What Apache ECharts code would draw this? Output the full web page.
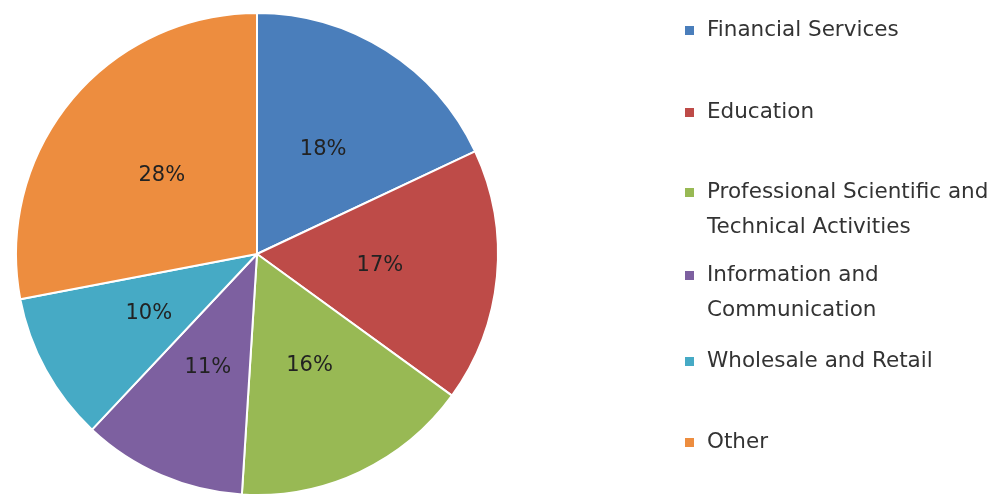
<!DOCTYPE html>
<html><head><meta charset="utf-8">
<script src="https://cdn.jsdelivr.net/npm/echarts@6/dist/echarts.min.js"></script>
<style>html,body{margin:0;padding:0;background:#fff}#c{width:997px;height:497px}</style>
</head><body><div id="c"></div>
<script>
const categories = ["Financial Services","Education","Professional Scientific and Technical Activities","Information and Communication","Wholesale and Retail","Other"];
const legendLine1 = ["Financial Services","Education","Professional Scientific and","Information and","Wholesale and Retail","Other"];
const legendLine2 = ["","","Technical Activities","Communication","",""];
const values = [18,17,16,11,10,28];
const colors = ["#4a7ebb","#be4b48","#98b954","#7d60a0","#46aac5","#ed8d3f"];

const FONT = "DejaVu Sans";
const LFS = 21.5;
const LH = 35;
const iconCenters = [30,112,192,275,361,442];
const legends = [];
categories.forEach((name,i)=>{
  const base = {
    data:[name], left:685, padding:0, itemWidth:9, itemHeight:9, selectedMode:false,
    itemStyle:{borderWidth:0},
    textStyle:{fontFamily:FONT,fontSize:LFS,color:'#333',padding:[0,0,0,8]}
  };
  legends.push(Object.assign({}, base, {top: iconCenters[i]-10.5, icon:'rect', formatter:()=>legendLine1[i]}));
  if (legendLine2[i]) {
    legends.push(Object.assign({}, base, {top: iconCenters[i]+LH-10.5, icon:'none', formatter:()=>legendLine2[i]}));
  }
});

const chart = echarts.init(document.getElementById('c'));
chart.setOption({
  animation:false,
  color:colors,
  legend:legends,
  series:[{
    type:'pie', center:[257,254], radius:241, startAngle:90, clockwise:true,
    itemStyle:{borderColor:'#fff',borderWidth:2},
    label:{position:'inner',formatter:p=>p.value+'%',fontFamily:FONT,fontSize:21,color:'#222'},
    labelLine:{show:false},
    emphasis:{disabled:true},
    data:categories.map((n,i)=>({name:n,value:values[i]}))
  }]
});
</script></body></html>
